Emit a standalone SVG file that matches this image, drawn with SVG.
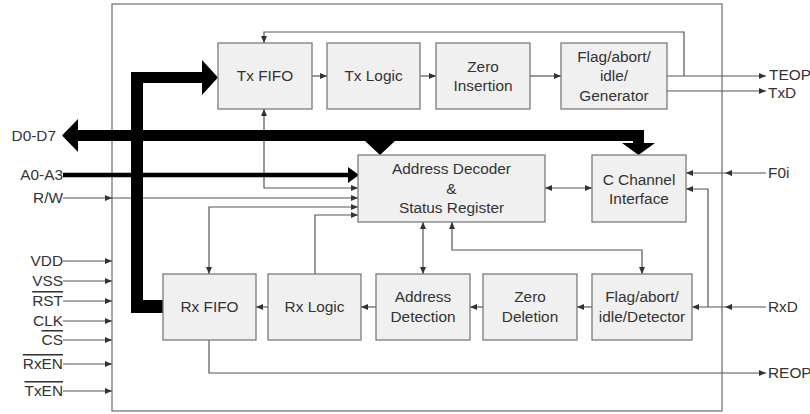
<svg xmlns="http://www.w3.org/2000/svg" width="810" height="414" viewBox="0 0 810 414">
<style>
  .box{fill:#f0f0f0;stroke:#7a7a7a;stroke-width:1.3}
  .ln{fill:none;stroke:#555;stroke-width:1.2}
  .t{font-family:"Liberation Sans",Arial,sans-serif;font-size:15.4px;fill:#333}
  .m{text-anchor:middle}
  .e{text-anchor:end}
  .bus{fill:#000}
  .ah{fill:#333}
  .ov{text-decoration:overline}
</style>
<defs>
  <marker id="a" markerUnits="userSpaceOnUse" markerWidth="8" markerHeight="6" refX="7" refY="3" orient="auto-start-reverse">
    <path d="M0,0 L7,3 L0,6 z" fill="#333"/>
  </marker>
</defs>
<rect x="112" y="4" width="610" height="407" fill="#fff" stroke="#777" stroke-width="1.3"/>

<g id="connectors">
  <line class="ln" x1="312" y1="76" x2="327" y2="76" marker-end="url(#a)"/>
  <line class="ln" x1="420" y1="76" x2="436" y2="76" marker-end="url(#a)"/>
  <line class="ln" x1="530" y1="76" x2="561" y2="76" marker-end="url(#a)"/>
  <polyline class="ln" points="684,76 684,32 264,32 264,43" marker-end="url(#a)"/>
  <line class="ln" x1="667" y1="76" x2="766" y2="76" marker-end="url(#a)"/>
  <line class="ln" x1="667" y1="91" x2="766" y2="91" marker-end="url(#a)"/>
  <polyline class="ln" points="264,109 264,188 358,188" marker-start="url(#a)" marker-end="url(#a)"/>
  <line class="ln" x1="63" y1="198" x2="112" y2="198" marker-end="url(#a)"/>
  <line class="ln" x1="112" y1="198" x2="358" y2="198" marker-end="url(#a)"/>
  <polyline class="ln" points="358,207 209,207 209,274" marker-start="url(#a)" marker-end="url(#a)"/>
  <polyline class="ln" points="315,274 315,215 358,215" marker-end="url(#a)"/>
  <line class="ln" x1="545" y1="188" x2="592" y2="188" marker-start="url(#a)" marker-end="url(#a)"/>
  <line class="ln" x1="766" y1="173" x2="686" y2="173" marker-end="url(#a)"/>
  <polygon class="ah" points="732,170 725,173 732,176"/>
  <line class="ln" x1="766" y1="307" x2="692" y2="307" marker-end="url(#a)"/>
  <polygon class="ah" points="732,304 725,307 732,310"/>
  <polyline class="ln" points="708,307 708,189 686,189" marker-end="url(#a)"/>
  <line class="ln" x1="423" y1="222" x2="423" y2="274" marker-start="url(#a)" marker-end="url(#a)"/>
  <polyline class="ln" points="452,222 452,250 642,250 642,274" marker-start="url(#a)" marker-end="url(#a)"/>
  <line class="ln" x1="592" y1="307" x2="577" y2="307" marker-end="url(#a)"/>
  <line class="ln" x1="483" y1="307" x2="470" y2="307" marker-end="url(#a)"/>
  <line class="ln" x1="376" y1="307" x2="361" y2="307" marker-end="url(#a)"/>
  <line class="ln" x1="268" y1="307" x2="256" y2="307" marker-end="url(#a)"/>
  <polyline class="ln" points="209,340 209,373 766,373" marker-end="url(#a)"/>
  <line class="ln" x1="63" y1="261" x2="112" y2="261" marker-end="url(#a)"/>
  <line class="ln" x1="63" y1="281" x2="112" y2="281" marker-end="url(#a)"/>
  <line class="ln" x1="63" y1="301" x2="112" y2="301" marker-end="url(#a)"/>
  <line class="ln" x1="63" y1="321" x2="112" y2="321" marker-end="url(#a)"/>
  <line class="ln" x1="63" y1="340" x2="112" y2="340" marker-end="url(#a)"/>
  <line class="ln" x1="63" y1="364" x2="112" y2="364" marker-end="url(#a)"/>
  <line class="ln" x1="63" y1="391" x2="112" y2="391" marker-end="url(#a)"/>
  <line x1="63" y1="175" x2="350" y2="175" stroke="#000" stroke-width="4.5"/>
  <polygon class="bus" points="348,167 359,175 348,183"/>
  <path class="bus" d="M62,135.5 L78,119 L78,130 L644,130 L644,143 L655,143 L638.5,155 L622,143 L633,143 L633,141 L395,141 L380,155 L365,141 L78,141 L78,152 Z"/>
  <path class="bus" d="M131,72 L202,72 L202,60 L218,77.5 L202,95 L202,83 L143,83 L143,300 L163,300 L163,313 L131,313 Z"/>
</g>

<g id="txfifo"><rect class="box" x="218" y="43" width="94" height="66"/><text class="t m" x="265" y="81">Tx FIFO</text></g>
<g id="txlogic"><rect class="box" x="327" y="43" width="93" height="66"/><text class="t m" x="373.5" y="81">Tx Logic</text></g>
<g id="zeroins"><rect class="box" x="436" y="43" width="94" height="66"/><text class="t m" x="483" y="72">Zero</text><text class="t m" x="483" y="91">Insertion</text></g>
<g id="flaggen"><rect class="box" x="561" y="43" width="106" height="66"/><text class="t m" x="614" y="62">Flag/abort/</text><text class="t m" x="614" y="81">idle/</text><text class="t m" x="614" y="101">Generator</text></g>
<g id="addrdec"><rect class="box" x="358" y="155" width="187" height="67"/><text class="t m" x="451.5" y="174">Address Decoder</text><text class="t m" x="451.5" y="194">&amp;</text><text class="t m" x="451.5" y="213">Status Register</text></g>
<g id="cchan"><rect class="box" x="592" y="155" width="94" height="67"/><text class="t m" x="639" y="185">C Channel</text><text class="t m" x="639" y="204">Interface</text></g>
<g id="rxfifo"><rect class="box" x="163" y="274" width="93" height="66"/><text class="t m" x="209.5" y="312">Rx FIFO</text></g>
<g id="rxlogic"><rect class="box" x="268" y="274" width="93" height="66"/><text class="t m" x="314.5" y="312">Rx Logic</text></g>
<g id="addrdet"><rect class="box" x="376" y="274" width="94" height="66"/><text class="t m" x="423" y="302">Address</text><text class="t m" x="423" y="322">Detection</text></g>
<g id="zerodel"><rect class="box" x="483" y="274" width="94" height="66"/><text class="t m" x="530" y="302">Zero</text><text class="t m" x="530" y="322">Deletion</text></g>
<g id="flagdet"><rect class="box" x="592" y="274" width="100" height="66"/><text class="t m" x="642" y="302">Flag/abort/</text><text class="t m" x="642" y="322">idle/Detector</text></g>

<g id="labels">
  <text class="t e" x="56" y="141">D0-D7</text>
  <text class="t e" x="63" y="180">A0-A3</text>
  <text class="t e" x="63" y="203">R/W</text>
  <text class="t e" x="63" y="266">VDD</text>
  <text class="t e" x="63" y="286">VSS</text>
  <text class="t e ov" x="63" y="306">RST</text>
  <text class="t e" x="63" y="326">CLK</text>
  <text class="t e ov" x="63" y="345">CS</text>
  <text class="t e ov" x="63" y="369">RxEN</text>
  <text class="t e ov" x="63" y="396">TxEN</text>
  <text class="t" x="769" y="80">TEOP</text>
  <text class="t" x="768" y="98">TxD</text>
  <text class="t" x="768" y="178">F0i</text>
  <text class="t" x="768" y="312">RxD</text>
  <text class="t" x="768" y="378">REOP</text>
</g>
</svg>
